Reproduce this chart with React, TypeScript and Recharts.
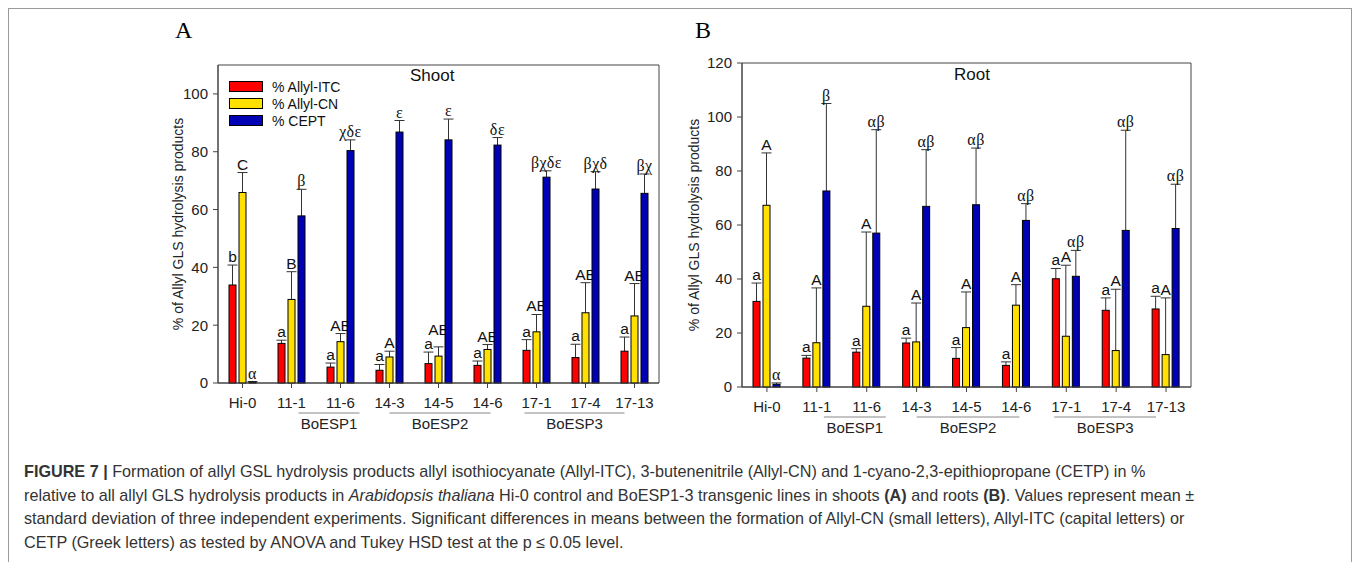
import { BarChart, Bar, XAxis, YAxis, Legend, ReferenceArea } from 'recharts';

// categories (lines) shared by both panels
const categories = ['Hi-0', '11-1', '11-6', '14-3', '14-5', '14-6', '17-1', '17-4', '17-13'];

// Shoot (panel A)
const shootItc = [33.9, 13.7, 5.5, 4.4, 6.7, 6.1, 11.3, 8.8, 11.0];
const shootItcSd = [6.9, 1.1, 1.4, 2.0, 4.0, 1.5, 3.7, 4.6, 4.9];
const shootCn = [65.9, 28.9, 14.3, 9.0, 9.3, 11.6, 17.7, 24.3, 23.2];
const shootCnSd = [6.9, 9.6, 2.8, 2.0, 3.2, 1.7, 6.0, 10.4, 11.2];
const shootCetp = [0.3, 57.8, 80.4, 86.8, 84.1, 82.3, 71.2, 67.1, 65.6];
const shootCetpSd = [0.2, 9.2, 3.7, 4.0, 7.2, 2.6, 2.2, 6.0, 6.7];
const shootItcLetters = ['b', 'a', 'a', 'a', 'a', 'a', 'a', 'a', 'a'];
const shootCnLetters = ['C', 'B', 'AB', 'A', 'AB', 'AB', 'AB', 'AB', 'AB'];
const shootCetpLetters = ['α', 'β', 'χδε', 'ε', 'ε', 'δε', 'βχδε', 'βχδ', 'βχ'];

// Root (panel B)
const rootItc = [31.7, 10.7, 12.9, 16.3, 10.6, 8.0, 40.1, 28.4, 28.9];
const rootItcSd = [6.8, 1.0, 1.3, 1.8, 4.0, 1.3, 3.8, 4.6, 4.7];
const rootCn = [67.3, 16.4, 29.9, 16.7, 22.0, 30.3, 18.8, 13.5, 12.0];
const rootCnSd = [19.4, 20.3, 27.5, 14.4, 13.2, 7.6, 26.3, 22.7, 21.0];
const rootCetp = [1.0, 72.6, 57.0, 66.9, 67.5, 61.7, 41.0, 58.0, 58.7];
const rootCetpSd = [0.5, 32.4, 38.3, 21.0, 21.0, 6.2, 9.6, 37.1, 16.4];
const rootItcLetters = ['a', 'a', 'a', 'a', 'a', 'a', 'a', 'a', 'a'];
const rootCnLetters = ['A', 'A', 'A', 'A', 'A', 'A', 'A', 'A', 'A'];
const rootCetpLetters = ['α', 'β', 'αβ', 'αβ', 'αβ', 'αβ', 'αβ', 'αβ', 'αβ'];

// transgenic groups underlined below the x axis
const groups = [
  { name: 'BoESP1', start: 1, end: 2 },
  { name: 'BoESP2', start: 3, end: 5 },
  { name: 'BoESP3', start: 6, end: 8 },
];
const groupLineOffsets = [[7, 19], [0, 3], [-12, -10]];

const shootTicks = [0, 20, 40, 60, 80, 100];
const rootTicks = [0, 20, 40, 60, 80, 100, 120];
const legendOrder = ['% Allyl-ITC', '% Allyl-CN', '% CEPT'];

const SANS = '"Liberation Sans", Arial, sans-serif';
const SERIF = '"Liberation Serif", "DejaVu Serif", "Times New Roman", serif';
const AXIS = '#444';

const buildRows = (itc, itcSd, cn, cnSd, cetp, cetpSd, l1, l2, l3, lift = {}) =>
  categories.map((cat, i) => ({
    cat,
    itc: itc[i], itcSd: itcSd[i], itcLbl: l1[i],
    cn: cn[i], cnSd: cnSd[i], cnLbl: l2[i], cnLift: lift[cat] || 0,
    cetp: cetp[i], cetpSd: cetpSd[i], cetpLbl: l3[i],
  }));

// letters nudged up in the original so they clear a neighbour (px)
const shootLetterLift = { '14-5': 9 };

const shootData = buildRows(shootItc, shootItcSd, shootCn, shootCnSd, shootCetp, shootCetpSd,
  shootItcLetters, shootCnLetters, shootCetpLetters, shootLetterLift);
const rootData = buildRows(rootItc, rootItcSd, rootCn, rootCnSd, rootCetp, rootCetpSd,
  rootItcLetters, rootCnLetters, rootCetpLetters);

// bar + one-sided SD whisker + significance letter
const makeShape = (key: string, greek: boolean) => (props: any) => {
  const { x, y, width, height, payload, fill } = props;
  const val = payload[key];
  const unit = val > 0 ? height / val : 0;
  const top = y - payload[key + 'Sd'] * unit;
  const cx = x + width / 2;
  const lift = payload[key + 'Lift'] || 0;
  return (
    <g>
      <line x1={cx} x2={cx} y1={y} y2={top} stroke="#333" strokeWidth={1} />
      <line x1={cx - 5} x2={cx + 5} y1={top} y2={top} stroke="#333" strokeWidth={1} />
      <rect x={x} y={y} width={width} height={height} fill={fill} stroke="#000" strokeWidth={1} />
      <text
        x={cx}
        y={top - 3 - lift}
        textAnchor="middle"
        style={{ fontFamily: greek ? SERIF : SANS, fontSize: greek ? 16 : 15.5, letterSpacing: greek ? 0.5 : 0 }}
        fill="#111"
      >
        {payload[key + 'Lbl']}
      </text>
    </g>
  );
};

const makeTick = (band: number) => (props: any) => {
  const { x, y, payload, index } = props;
  const gi = groups.findIndex((g) => g.start === index);
  let extra = null;
  if (gi >= 0) {
    const g = groups[gi];
    const x1 = x + groupLineOffsets[gi][0];
    const x2 = x + (g.end - g.start) * band + groupLineOffsets[gi][1];
    extra = (
      <g>
        <line x1={x1} x2={x2} y1={y + 23} y2={y + 23} stroke="#888" strokeWidth={1} />
        <text x={(x1 + x2) / 2} y={y + 39} textAnchor="middle" style={{ fontFamily: SANS, fontSize: 15 }} fill="#222">
          {g.name}
        </text>
      </g>
    );
  }
  return (
    <g>
      <text x={x} y={y + 18} textAnchor="middle" style={{ fontFamily: SANS, fontSize: 15 }} fill="#222">
        {payload.value}
      </text>
      {extra}
    </g>
  );
};

const LegendBox = ({ payload }: any) => (
  <div style={{ fontFamily: SANS, fontSize: 14, color: '#111' }}>
    {(payload || []).map((p: any) => (
      <div key={p.value} style={{ display: 'flex', alignItems: 'center', height: 17 }}>
        <svg width={34} height={11} style={{ marginRight: 9 }}>
          <rect x={0.5} y={0.5} width={33} height={10} fill={p.color} stroke="#000" />
        </svg>
        <span>{p.value}</span>
      </div>
    ))}
  </div>
);

function Panel({ data, ticks, max, width, height, margin, yWidth, xHeight, labelOffset, band, legend }: any) {
  return (
    <BarChart width={width} height={height} data={data} margin={margin} barSize={7} barGap={3} style={{ fontFamily: SANS }}>
      <XAxis
        dataKey="cat"
        interval={0}
        tickSize={5}
        height={xHeight}
        stroke={AXIS}
        tickLine={{ stroke: AXIS }}
        tick={makeTick(band)}
      />
      <YAxis
        domain={[0, max]}
        ticks={ticks}
        width={yWidth}
        tickSize={5}
        tickMargin={5}
        stroke={AXIS}
        tick={{ fontSize: 15, fill: '#222', style: { fontFamily: SANS } }}
        label={{
          value: '% of Allyl GLS hydrolysis products',
          angle: -90,
          position: 'insideLeft',
          offset: labelOffset,
          fill: '#222',
          fontSize: 14,
          style: { textAnchor: 'middle', fontFamily: SANS },
        }}
      />
      {/* plot frame (top and right sides) */}
      <ReferenceArea y1={0} y2={max} fill="none" stroke={AXIS} strokeWidth={1} />
      {legend && (
        <Legend
          layout="vertical"
          align="center"
          verticalAlign="middle"
          itemSorter={(item: any) => legendOrder.indexOf(item.value)}
          content={<LegendBox />}
          wrapperStyle={{ left: legend.left, top: legend.top, width: 'auto' }}
        />
      )}
      <Bar dataKey="itc" name="% Allyl-ITC" fill="#ff0000" shape={makeShape('itc', false)} isAnimationActive={false} />
      <Bar dataKey="cn" name="% Allyl-CN" fill="#ffe000" shape={makeShape('cn', false)} isAnimationActive={false} />
      <Bar dataKey="cetp" name="% CEPT" fill="#0000b4" shape={makeShape('cetp', true)} isAnimationActive={false} />
    </BarChart>
  );
}

export default function App() {
  return (
    <div style={{ position: 'absolute', left: 0, top: 0, width: 1355, height: 562, background: '#fff', overflow: 'hidden' }}>
      <div style={{ position: 'absolute', left: 8, top: 8, width: 1344, height: 600, border: '1.5px solid #9a9a9a', boxSizing: 'border-box' }} />

      <div style={{ position: 'absolute', left: 175, top: 17, fontFamily: SERIF, fontSize: 24 }}>A</div>
      <div style={{ position: 'absolute', left: 695, top: 17, fontFamily: SERIF, fontSize: 24 }}>B</div>

      <div style={{ position: 'absolute', left: 150, top: 50 }}>
        <Panel
          data={shootData}
          ticks={shootTicks}
          max={110}
          width={530}
          height={400}
          margin={{ top: 15, right: 21, bottom: 7, left: 23 }}
          yWidth={45}
          xHeight={60}
          labelOffset={5}
          band={49}
          legend={{ left: 79, top: 28 }}
        />
      </div>
      <div style={{ position: 'absolute', left: 410, top: 66, fontFamily: SANS, fontSize: 17, color: '#111' }}>Shoot</div>

      <div style={{ position: 'absolute', left: 680, top: 50 }}>
        <Panel
          data={rootData}
          ticks={rootTicks}
          max={120}
          width={530}
          height={400}
          margin={{ top: 13, right: 19, bottom: 7, left: 10 }}
          yWidth={52}
          xHeight={56}
          labelOffset={4}
          band={49.9}
        />
      </div>
      <div style={{ position: 'absolute', left: 954, top: 65, fontFamily: SANS, fontSize: 17, color: '#111' }}>Root</div>

      <div style={{ position: 'absolute', left: 24, top: 460, fontFamily: SANS, fontSize: 16.2, lineHeight: '23.5px', color: '#333', whiteSpace: 'nowrap' }}>
        <div>
          <b>FIGURE 7 |</b> Formation of allyl GSL hydrolysis products allyl isothiocyanate (Allyl-ITC), 3-butenenitrile (Allyl-CN) and 1-cyano-2,3-epithiopropane (CETP) in %
        </div>
        <div>
          relative to all allyl GLS hydrolysis products in <i>Arabidopsis thaliana</i> Hi-0 control and BoESP1-3 transgenic lines in shoots <b>(A)</b> and roots <b>(B)</b>. Values represent mean ±
        </div>
        <div>
          standard deviation of three independent experiments. Significant differences in means between the formation of Allyl-CN (small letters), Allyl-ITC (capital letters) or
        </div>
        <div>CETP (Greek letters) as tested by ANOVA and Tukey HSD test at the p ≤ 0.05 level.</div>
      </div>
    </div>
  );
}
